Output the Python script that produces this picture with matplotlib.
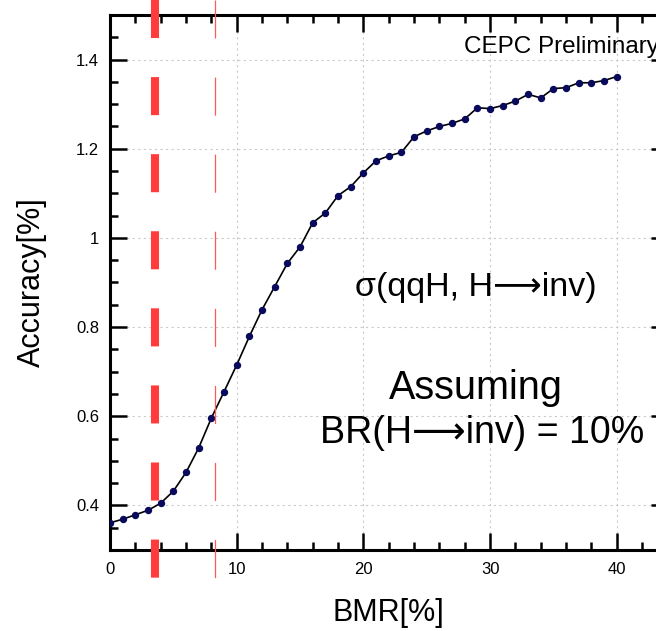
import matplotlib
matplotlib.use("Agg")
import matplotlib.pyplot as plt
from matplotlib.ticker import MultipleLocator, FormatStrFormatter

plt.rcParams['font.family'] = ['Liberation Sans', 'DejaVu Sans']
plt.rcParams['lines.scale_dashes'] = False

# data
bmr = list(range(0, 41))
accuracy = [0.361, 0.369, 0.379, 0.389, 0.405, 0.432, 0.474, 0.529, 0.596, 0.655,
            0.715, 0.779, 0.839, 0.891, 0.943, 0.980, 1.034, 1.056, 1.095, 1.115,
            1.146, 1.173, 1.184, 1.192, 1.227, 1.240, 1.250, 1.257, 1.267, 1.292,
            1.290, 1.297, 1.307, 1.322, 1.314, 1.335, 1.337, 1.348, 1.348, 1.353,
            1.362]
ref_lines = [3.55, 8.3]
x_ticks = [0, 10, 20, 30, 40]
y_ticks = [0.4, 0.6, 0.8, 1.0, 1.2, 1.4]

fig = plt.figure(figsize=(6.56, 6.31), dpi=100)
ax = fig.add_axes([110/656, 81/631, 557.5/656, 535/631])
ax.set_xlim(0, 44)
ax.set_ylim(0.3, 1.5)

ax.set_axisbelow(True)
ax.grid(True, which='major', color='#c8c8c8', linestyle=(0, (1.5, 2.5)), linewidth=0.8)

# the curve
ax.plot(bmr, accuracy, color='black', lw=1.2, zorder=3)
ax.plot(bmr, accuracy, ls='', marker='o', ms=4.3, color='#0a0a5c', zorder=4)

# red dashed reference lines, running past the frame
ax.plot([ref_lines[0]] * 2, [1.5337, 0.2366], color='#ff3b3b', lw=5.8,
        dashes=(27.4, 28.1), clip_on=False, zorder=5)
ax.plot([ref_lines[1]] * 2, [1.5337, 0.2366], color='#ff5a5a', lw=0.9,
        dashes=(27.4, 28.1), clip_on=False, zorder=5)

# ticks
ax.set_xticks(x_ticks)
ax.set_yticks(y_ticks)
ax.xaxis.set_minor_locator(MultipleLocator(2))
ax.yaxis.set_minor_locator(MultipleLocator(0.05))
ax.yaxis.set_major_formatter(FormatStrFormatter('%g'))
ax.tick_params(which='both', direction='in', top=True, right=True, width=1.8)
ax.tick_params(which='major', length=12.2, labelsize=12)
ax.tick_params(which='minor', length=6)
ax.tick_params(axis='x', pad=9)
ax.tick_params(axis='y', pad=8)
for s in ax.spines.values():
    s.set_linewidth(2.2)

ax.set_xlabel('BMR[%]', fontsize=22, va='center')
ax.xaxis.set_label_coords(0.5, -0.118)
ax.set_ylabel('Accuracy[%]', fontsize=22, va='center')
ax.yaxis.set_label_coords(-0.14, 0.5)

# annotations (the label runs off the right edge, as in the original)
ax.text(27.9, 1.428, 'CEPC Preliminary', fontsize=17.5, ha='left', va='center')
ax.text(28.9, 0.888, 'σ(qqH, H⟶inv)', fontsize=24.5, ha='center', va='center')
ax.text(28.9, 0.664, 'Assuming', fontsize=28.5, ha='center', va='center')
ax.text(29.4, 0.563, 'BR(H⟶inv) = 10%', fontsize=27, ha='center', va='center')

fig.savefig('out.png', dpi=100)
